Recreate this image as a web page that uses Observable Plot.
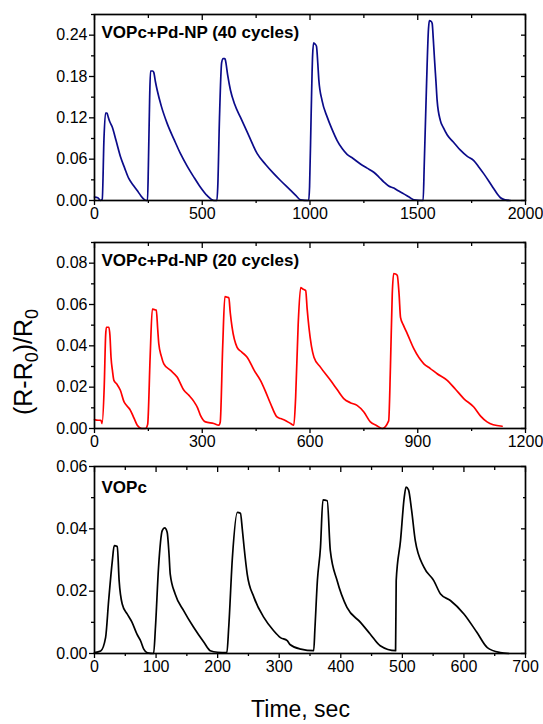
<!DOCTYPE html>
<html><head><meta charset="utf-8">
<script src="https://cdn.jsdelivr.net/npm/d3@7"></script>
<script src="https://cdn.jsdelivr.net/npm/@observablehq/plot@0.6"></script>
<style>
body{margin:0;background:#fff;}
#wrap{position:relative;width:543px;height:724px;font-family:"Liberation Sans",Arial,sans-serif;color:#000;overflow:hidden;}
.panel{position:absolute;left:0;}
#ylab{position:absolute;left:-77px;top:347px;width:200px;height:30px;line-height:30px;text-align:center;font-size:25px;transform:rotate(-90deg);white-space:nowrap;}
#ylab sub{font-size:18px;vertical-align:-6px;line-height:0;}
#xlab{position:absolute;left:0;top:694px;width:601px;height:30px;line-height:30px;text-align:center;font-size:23px;}
</style></head>
<body>
<div id="wrap">
<div id="p1" class="panel" style="top:0px"></div>
<div id="p2" class="panel" style="top:228px"></div>
<div id="p3" class="panel" style="top:456px"></div>
<div id="ylab">(R-R<sub>0</sub>)/R<sub>0</sub></div>
<div id="xlab">Time, sec</div>
</div>
<script>
// ---- Panel 1: VOPc+Pd-NP (40 cycles)
const title1 = "VOPc+Pd-NP (40 cycles)";
const time1 = [0,15,28,36,44,51,58,61,70,82,100,121,140,159,180,198,215,229,240,246,250,256,260,270,275,283,291,310,337,370,399,430,461,490,523,554,568,572,580,590,597,605,608,618,631,650,677,715,755,795,832,863,909,935,956,994,998,1005,1012,1017,1024,1030,1036,1041,1056,1080,1100,1126,1150,1172,1200,1234,1265,1296,1320,1342,1365,1389,1410,1435,1460,1482,1525,1530,1540,1550,1554,1562,1567,1572,1578,1585,1590,1605,1620,1637,1665,1698,1730,1760,1785,1806,1830,1853,1870,1884,1905,1930];
const resp1 = [0.005,0.004,0.0,0.002,0.09,0.127,0.127,0.124,0.115,0.107,0.087,0.063,0.047,0.032,0.022,0.0145,0.007,0.002,0.0,0.0,0.05,0.15,0.188,0.188,0.186,0.172,0.16,0.137,0.112,0.088,0.068,0.05,0.034,0.02,0.007,0.0,0.0,0.02,0.12,0.2,0.206,0.206,0.203,0.182,0.16,0.14,0.121,0.095,0.068,0.052,0.039,0.029,0.015,0.007,0.001,0.0,0.02,0.12,0.21,0.229,0.227,0.224,0.2,0.175,0.145,0.121,0.105,0.087,0.075,0.067,0.061,0.053,0.047,0.041,0.034,0.027,0.021,0.018,0.014,0.0096,0.005,0.001,0.0,0.05,0.16,0.25,0.261,0.26,0.257,0.235,0.204,0.17,0.145,0.116,0.105,0.095,0.085,0.073,0.064,0.058,0.048,0.039,0.028,0.017,0.009,0.004,0.001,0.0];
const xTicks1 = [0,500,1000,1500,2000];
const xMinor1 = [250,750,1250,1750];
const yTicks1 = [0,0.06,0.12,0.18,0.24];
const yMinor1 = [0.03,0.09,0.15,0.21,0.27];

// ---- Panel 2: VOPc+Pd-NP (20 cycles)
const title2 = "VOPc+Pd-NP (20 cycles)";
const time2 = [0,10,18,21,27,31,33,40,43,46,50,54,62,72,82,90,100,110,119,132,142,148,155,161,167,172,176,179,186,193,212,230,249,263,277,287,295,309,332,346,350,357,363,370,374,378,383,397,410,425,445,462,476,490,508,518,530,546,555,560,567,574,580,588,592,597,611,629,657,675,694,712,731,750,768,785,801,819,824,829,833,838,843,848,852,860,871,889,917,935,954,982,1005,1028,1056,1075,1093,1110,1135];
const resp2 = [0.0043,0.004,0.004,0.0024,0.02,0.045,0.049,0.049,0.045,0.0345,0.028,0.0233,0.0215,0.0185,0.013,0.011,0.0088,0.005,0.0016,0.0,0.0,0.002,0.035,0.0578,0.0575,0.0573,0.048,0.041,0.035,0.0313,0.0281,0.0249,0.0185,0.016,0.013,0.01,0.0064,0.0032,0.0024,0.0016,0.003,0.04,0.0638,0.0635,0.0632,0.056,0.049,0.0393,0.037,0.0345,0.028,0.0233,0.018,0.0121,0.0056,0.0048,0.004,0.0024,0.0016,0.015,0.05,0.0682,0.0675,0.0667,0.058,0.049,0.0345,0.0297,0.0233,0.019,0.0145,0.0125,0.0112,0.008,0.0032,0.0015,0.0,0.0037,0.03,0.065,0.075,0.0748,0.0741,0.065,0.0538,0.05,0.0458,0.0386,0.0313,0.029,0.0265,0.0233,0.019,0.0145,0.0104,0.006,0.0032,0.0018,0.0011];
const xTicks2 = [0,300,600,900,1200];
const xMinor2 = [150,450,750,1050];
const yTicks2 = [0,0.02,0.04,0.06,0.08];
const yMinor2 = [0.01,0.03,0.05,0.07,0.09];

// ---- Panel 3: VOPc
const title3 = "VOPc";
const time3 = [0,10,18,23,29,32,37,40,45,53,61,69,75,80,86,96,99,104,110,114,118,121,123,131,145,161,178,188,200,215,218,224,232,237,240,243,248,259,275,291,302,313,318,335,356,358,362,367,371,378,383,394,410,432,448,464,489,490,497,503,506,510,515,521,535,551,562,578,600,621,638,659,673];
const resp3 = [0.0003,0.0008,0.0051,0.017,0.0298,0.0346,0.0343,0.0234,0.0159,0.0127,0.01,0.0062,0.004,0.0014,0.0002,0.0,0.0084,0.0276,0.0394,0.0403,0.0389,0.032,0.0255,0.0191,0.0137,0.0084,0.0035,0.0009,0.0004,0.0003,0.0084,0.0309,0.0453,0.045,0.04,0.034,0.0255,0.018,0.0116,0.0073,0.0051,0.0041,0.0028,0.0014,0.0009,0.008,0.0234,0.034,0.0493,0.049,0.033,0.0234,0.0148,0.01,0.0062,0.0025,0.0009,0.0234,0.0362,0.05,0.0534,0.0525,0.046,0.0362,0.0277,0.0234,0.0191,0.017,0.0127,0.0068,0.0019,0.0003,0.0];
const xTicks3 = [0,100,200,300,400,500,600,700];
const xMinor3 = [50,150,250,350,450,550,650];
const yTicks3 = [0,0.02,0.04,0.06];
const yMinor3 = [0.01,0.03,0.05];

const fmtY = d3.format(".2f");
const blank = () => "";

function panel(cfg) {
  const {t, r, color, title, xDomain, yDomain, xT, xM, yT, yM, height, mt, mb, titleDy} = cfg;
  return Plot.plot({
    width: 543, height, marginLeft: 94, marginRight: 18, marginTop: mt, marginBottom: mb,
    style: {fontFamily: "Liberation Sans, Arial, sans-serif", fontSize: "16px", color: "#000", background: "transparent", overflow: "visible"},
    x: {domain: xDomain},
    y: {domain: yDomain},
    marks: [
      Plot.axisX({ticks: xT, tickSize: 5, tickPadding: 2, tickFormat: d3.format("d"), label: null, strokeWidth: 1.3, fontSize: 16}),
      Plot.axisX({ticks: xM, tickSize: 3, tickFormat: blank, label: null, strokeWidth: 1.3}),
      Plot.axisX({anchor: "top", ticks: xT, tickSize: 5, dy: 5, tickFormat: blank, label: null, strokeWidth: 1.3}),
      Plot.axisX({anchor: "top", ticks: xM, tickSize: 3, dy: 3, tickFormat: blank, label: null, strokeWidth: 1.3}),
      Plot.axisY({ticks: yT, tickSize: 5, tickPadding: 2, tickFormat: fmtY, label: null, strokeWidth: 1.3, fontSize: 16}),
      Plot.axisY({ticks: yM, tickSize: 3, tickFormat: blank, label: null, strokeWidth: 1.3}),
      Plot.axisY({anchor: "right", ticks: yT, tickSize: 5, dx: -5, tickFormat: blank, label: null, strokeWidth: 1.3}),
      Plot.axisY({anchor: "right", ticks: yM, tickSize: 3, dx: -3, tickFormat: blank, label: null, strokeWidth: 1.3}),
      Plot.line(t, {x: t, y: r, stroke: color, strokeWidth: 1.7, curve: "monotone-x"}),
      Plot.frame({stroke: "#000", strokeWidth: 1.7}),
      Plot.text([title], {frameAnchor: "top-left", dx: 7, dy: titleDy, textAnchor: "start", lineAnchor: "middle", fontWeight: "bold", fontSize: 17, fill: "#000"})
    ]
  });
}

document.getElementById("p1").append(panel({t: time1, r: resp1, color: "#0b0b8a", title: title1, xDomain: [0,2000], yDomain: [0,0.27], xT: xTicks1, xM: xMinor1, yT: yTicks1, yM: yMinor1, height: 228, mt: 14, mb: 28, titleDy: 18}));
document.getElementById("p2").append(panel({t: time2, r: resp2, color: "#ff0000", title: title2, xDomain: [0,1200], yDomain: [0,0.09], xT: xTicks2, xM: xMinor2, yT: yTicks2, yM: yMinor2, height: 228, mt: 14, mb: 28, titleDy: 18}));
document.getElementById("p3").append(panel({t: time3, r: resp3, color: "#000000", title: title3, xDomain: [0,700], yDomain: [0,0.06], xT: xTicks3, xM: xMinor3, yT: yTicks3, yM: yMinor3, height: 225, mt: 10, mb: 28, titleDy: 21.5}));
</script>
</body></html>
